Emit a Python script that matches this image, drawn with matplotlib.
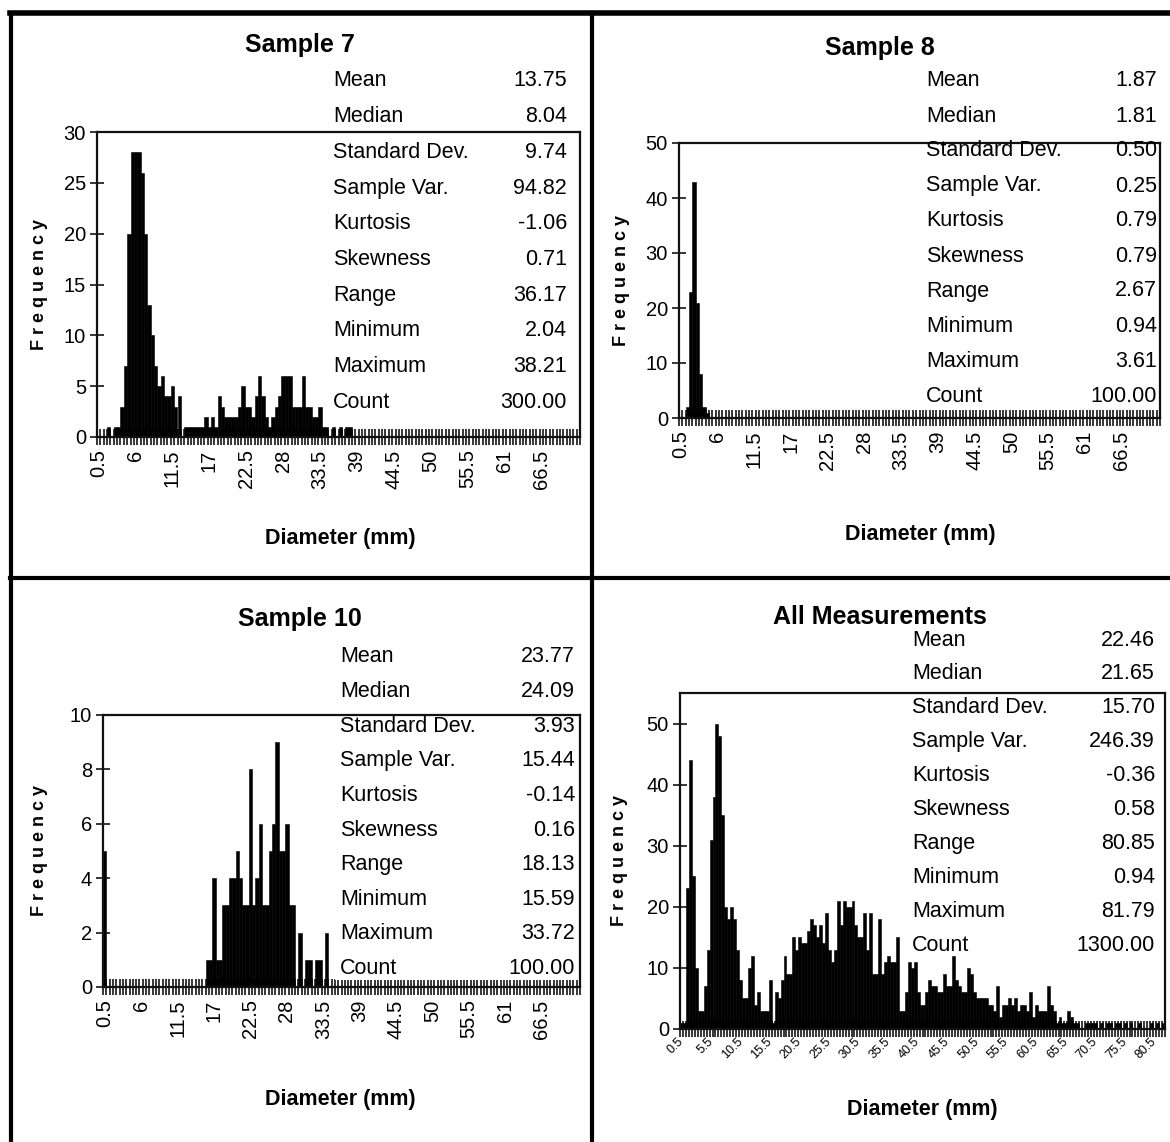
import matplotlib.pyplot as plt
import numpy as np
from matplotlib.patches import Rectangle
from matplotlib.lines import Line2D

W, H = 1170, 1142
NARROW = ['Liberation Sans Narrow', 'Liberation Sans', 'DejaVu Sans']
BOLDF = ['Liberation Sans', 'DejaVu Sans']

# histogram bins (upper edge, mm)
bins_sample = np.arange(1, 145) * 0.5      # 0.5 .. 72.0
bins_all = np.arange(1, 165) * 0.5         # 0.5 .. 82.0

sample7_freq = [
    0, 0, 0, 1, 0, 1, 1, 3, 7, 20,
    28, 28, 28, 26, 20, 13, 10, 7, 5, 6,
    4, 4, 5, 3, 4, 0, 1, 1, 1, 1,
    1, 1, 2, 1, 2, 1, 4, 3, 2, 2,
    2, 2, 3, 5, 3, 3, 2, 4, 6, 4,
    2, 1, 2, 3, 4, 6, 6, 6, 3, 3,
    3, 6, 3, 3, 2, 2, 3, 1, 1, 0,
    1, 0, 1, 0, 1, 1, 0, 0, 0, 0,
] + [0] * 64

sample8_freq = [0, 0, 2, 23, 43, 21, 8, 2, 1] + [0] * 135

sample10_freq = [5] + [0] * 30 + [
    1, 1, 4, 1, 1, 3, 3, 4, 4, 5,
    4, 3, 3, 8, 3, 4, 6, 3, 3, 5,
    6, 9, 5, 5, 6, 3, 3, 0, 2, 0,
    1, 1, 0, 1, 1, 0, 2,
] + [0] * 76

all_freq = [
    1, 1, 23, 44, 25, 10, 3, 3, 7, 13,
    31, 38, 50, 48, 35, 20, 18, 20, 18, 13,
    8, 5, 5, 10, 12, 4, 6, 3, 3, 3,
    8, 1, 6, 5, 8, 12, 9, 9, 15, 13,
    15, 14, 14, 16, 18, 17, 15, 17, 14, 19,
    13, 11, 13, 21, 17, 21, 20, 20, 21, 17,
    15, 15, 19, 13, 19, 9, 9, 18, 9, 11,
    12, 11, 11, 15, 3, 3, 6, 11, 10, 11,
    6, 4, 4, 6, 8, 7, 7, 6, 6, 9,
    7, 7, 12, 8, 7, 6, 6, 10, 9, 6,
    5, 5, 5, 5, 4, 4, 3, 7, 2, 4,
    4, 5, 4, 5, 3, 4, 4, 3, 6, 2,
    4, 3, 3, 3, 7, 4, 3, 1, 2, 1,
    1, 3, 2, 1, 1, 0, 0, 1, 1, 1,
    1, 0, 1, 0, 1, 1, 0, 1, 1, 0,
    1, 0, 1, 0, 0, 1, 0, 0, 0, 1,
    0, 1, 0, 1,
]

stat_names = ["Mean", "Median", "Standard Dev.", "Sample Var.", "Kurtosis",
              "Skewness", "Range", "Minimum", "Maximum", "Count"]
sample7_stats = [13.75, 8.04, 9.74, 94.82, -1.06, 0.71, 36.17, 2.04, 38.21, 300.00]
sample8_stats = [1.87, 1.81, 0.50, 0.25, 0.79, 0.79, 2.67, 0.94, 3.61, 100.00]
sample10_stats = [23.77, 24.09, 3.93, 15.44, -0.14, 0.16, 18.13, 15.59, 33.72, 100.00]
all_stats = [22.46, 21.65, 15.70, 246.39, -0.36, 0.58, 80.85, 0.94, 81.79, 1300.00]


def fx(x):
    return x / W


def fy(y):
    return 1 - y / H


fig = plt.figure(figsize=(W / 100, H / 100), dpi=100)
fig.patch.set_facecolor('white')


def panel(box, bins, freq, ymax, yticks, step, nlab, stats, title, title_xy,
          stat_x, stat_r, stat_y, stat_dy, xlab_xy, ylab_xy, cover_bottom,
          small=False):
    x0, y0, x1, y1 = box
    ax = fig.add_axes([fx(x0), fy(y1), fx(x1 - x0), (y1 - y0) / H])
    n = len(freq)
    idx = np.arange(n)
    ax.bar(idx, freq, width=1.0, color='black', edgecolor='black',
           linewidth=0.4, zorder=2)
    ax.set_xlim(-0.5, n - 0.5)
    ax.set_ylim(0, ymax)
    ax.set_yticks(yticks)
    ax.set_yticklabels([str(v) for v in yticks], family=NARROW, fontsize=14.5)
    major = idx[::step][:nlab]
    ax.set_xticks(major)
    labels = ['%g' % bins[i] for i in major]
    if small:
        ax.set_xticklabels(labels, rotation=45, ha='right', va='center',
                           rotation_mode='anchor', family=NARROW, fontsize=9)
        ax.tick_params(axis='x', which='major', length=0, pad=8)
    else:
        ax.set_xticklabels(labels, rotation=90, family=NARROW, fontsize=14.5)
        ax.tick_params(axis='x', which='major', length=0, pad=9)
    ax.set_xticks(np.arange(n + 1) - 0.5, minor=True)
    ax.tick_params(axis='x', which='minor', direction='inout', length=11,
                   width=1.1, color='black')
    ax.tick_params(axis='y', which='major', direction='inout', length=10,
                   width=1.1, pad=3)
    for sp in ax.spines.values():
        sp.set_linewidth(1.6)
        sp.set_color('#111111')

    # white block behind the statistics table
    cx0 = (stat_x - 5 - x0) / (x1 - x0)
    cy0 = (y1 - cover_bottom) / (y1 - y0)
    ax.add_patch(Rectangle((cx0, cy0), 0.995 - cx0, 1.0 - cy0,
                           transform=ax.transAxes, facecolor='white',
                           edgecolor='none', zorder=2.2))

    fig.text(fx(title_xy[0]), fy(title_xy[1]), title, ha='center', va='center',
             family=NARROW, fontsize=18, fontweight='bold')
    for k, (name, val) in enumerate(zip(stat_names, stats)):
        yy = stat_y + k * stat_dy
        fig.text(fx(stat_x), fy(yy), name, ha='left', va='center',
                 family=NARROW, fontsize=15.5, zorder=3)
        fig.text(fx(stat_r), fy(yy), '%.2f' % val, ha='right',
                 va='center', family=NARROW, fontsize=15.5, zorder=3)
    fig.text(fx(xlab_xy[0]), fy(xlab_xy[1]), 'Diameter (mm)', ha='center',
             va='center', family=NARROW, fontsize=15.5, fontweight='bold')
    fig.text(fx(ylab_xy[0]), fy(ylab_xy[1]), 'F r e q u e n c y', ha='center',
             va='center', rotation=90, family=BOLDF, fontsize=13,
             fontweight='bold')
    return ax


panel((97, 132, 580, 437), bins_sample, sample7_freq, 30, list(range(0, 31, 5)),
      11, 13, sample7_stats, 'Sample 7', (300, 45), 333, 567, 81, 35.67,
      (340, 538), (40, 285), 422)
panel((679, 143, 1160, 418), bins_sample, sample8_freq, 50, list(range(0, 51, 10)),
      11, 13, sample8_stats, 'Sample 8', (880, 48), 926, 1157, 81, 35.0,
      (920, 535), (622, 280), 410)
panel((103, 715, 580, 987), bins_sample, sample10_freq, 10, list(range(0, 11, 2)),
      11, 13, sample10_stats, 'Sample 10', (300, 619), 340, 575, 657, 34.6,
      (340, 1100), (40, 850), 980)
panel((680, 693, 1165, 1029), bins_all, all_freq, 55, list(range(0, 51, 10)),
      10, 17, all_stats, 'All Measurements', (880, 617), 912, 1155, 640, 33.9,
      (922, 1110), (620, 860), 955, small=True)

# outer frame and dividers
for xs, ys, lw in [((10, 1170), (13, 13), 4),
                   ((11, 11), (13, 1142), 3),
                   ((592, 592), (13, 1142), 3),
                   ((10, 1170), (578, 578), 3)]:
    fig.add_artist(Line2D([fx(x) for x in xs], [fy(y) for y in ys],
                          transform=fig.transFigure, color='black', linewidth=lw))

fig.savefig('out.png', dpi=100, facecolor='white')
